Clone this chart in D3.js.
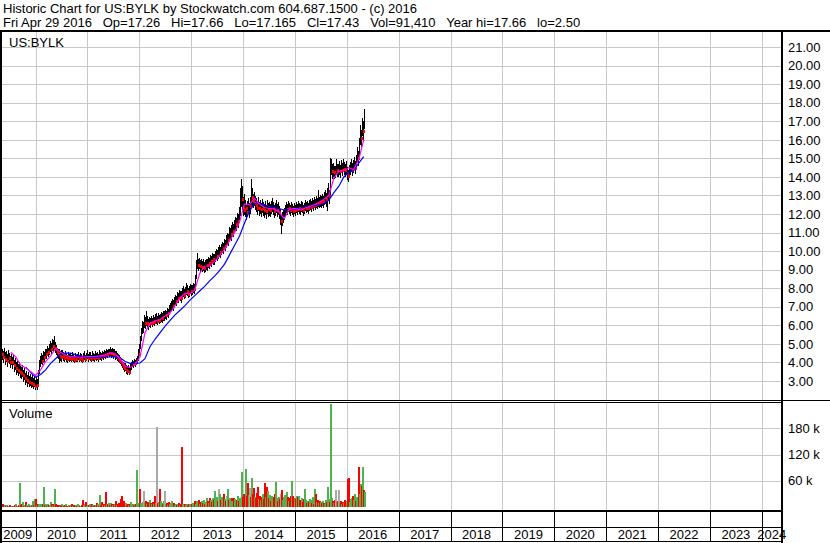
<!DOCTYPE html>
<html lang="en">

<head>
    <meta charset="UTF-8">
    <title>Historic Chart for US:BYLK</title>
    <script src="https://d3js.org/d3.v7.min.js"></script>
    <style>
        body {
            margin: 0;
            background-color: #fff;
        }

        svg {
            display: block;
            font-family: Arial, "Liberation Sans", sans-serif;
        }

        .hdr {
            font-size: 13px;
            white-space: pre;
        }

        .lbl {
            font-size: 13px;
        }
    </style>
</head>

<body>
    <svg id="chart" width="830" height="543"></svg>

    <script>
        const headerLines = [
            'Historic Chart for US:BYLK by Stockwatch.com 604.687.1500 - (c) 2016',
            'Fri Apr 29 2016   Op=17.26   Hi=17.66   Lo=17.165   Cl=17.43   Vol=91,410   Year hi=17.66   lo=2.50'
        ];
        const symbol = 'US:BYLK';

        // weekly bars, the last one is the week ending Fri Apr 29 2016
        const lastWeek = new Date(2016, 3, 29);

        const closes = [4.50,
            4.45, 4.30, 4.55, 4.20, 4.35, 4.10, 4.40, 4.25, 4.05, 4.20,
            4.00, 4.15, 3.85, 3.95, 3.70, 3.80, 3.60, 3.75, 3.50, 3.45,
            3.55, 3.30, 3.40, 3.15, 3.25, 3.05, 3.20, 2.95, 3.10, 2.90,
            3.05, 2.85, 2.95, 2.75, 2.90, 2.80, 3.30, 3.85, 4.05, 4.20,
            4.10, 4.35, 4.30, 4.50, 4.45, 4.65, 4.55, 4.70, 4.85, 4.75,
            5.00, 4.90, 5.05, 4.80, 4.70, 4.55, 4.45, 4.50, 4.35, 4.40,
            4.30, 4.45, 4.35, 4.25, 4.40, 4.30, 4.20, 4.35, 4.25, 4.30,
            4.20, 4.35, 4.25, 4.15, 4.30, 4.20, 4.25, 4.35, 4.20, 4.30,
            4.25, 4.15, 4.30, 4.35, 4.20, 4.30, 4.40, 4.25, 4.35, 4.30,
            4.20, 4.35, 4.30, 4.25, 4.40, 4.30, 4.35, 4.25, 4.45, 4.35,
            4.30, 4.40, 4.35, 4.45, 4.40, 4.50, 4.45, 4.55, 4.50, 4.60,
            4.50, 4.55, 4.45, 4.50, 4.35, 4.40, 4.30, 4.25, 4.15, 4.10,
            4.00, 3.90, 3.80, 3.70, 3.75, 3.60, 3.55, 3.65, 3.50, 3.70,
            3.80, 3.95, 3.90, 4.00, 3.95, 4.05, 4.10, 4.55, 4.45, 5.10,
            5.50, 5.90, 5.90, 6.20, 6.10, 6.30, 6.15, 6.05, 6.20, 6.10,
            6.25, 6.15, 6.30, 6.20, 6.35, 6.35, 6.25, 6.40, 6.30, 6.35,
            6.45, 6.40, 6.50, 6.50, 6.60, 6.55, 6.70, 6.65, 6.80, 6.90,
            7.00, 7.10, 7.05, 7.25, 7.35, 7.30, 7.50, 7.45, 7.60, 7.55,
            7.50, 7.70, 7.80, 7.65, 7.75, 7.90, 7.85, 7.70, 7.80, 7.95,
            7.85, 7.90, 8.00, 7.95, 8.30, 9.00, 9.40, 9.25, 9.35, 9.20,
            9.30, 9.15, 9.25, 9.10, 9.20, 9.30, 9.25, 9.40, 9.35, 9.50,
            9.45, 9.60, 9.55, 9.65, 9.70, 9.80, 9.75, 9.75, 10.00, 9.95,
            10.10, 10.20, 10.15, 10.35, 10.30, 10.30, 10.65, 10.60, 10.85, 10.95,
            10.90, 11.05, 11.20, 11.10, 11.35, 11.50, 11.45, 11.70, 11.60, 11.90,
            12.60, 13.20, 12.80, 12.40, 12.20, 12.70, 12.35, 12.10, 12.50, 12.50,
            12.45, 13.10, 12.90, 12.70, 12.85, 12.60, 12.50, 12.35, 12.55, 12.30,
            12.40, 12.25, 12.45, 12.30, 12.20, 12.35, 12.15, 12.40, 12.25, 12.30,
            12.20, 12.35, 12.45, 12.30, 12.15, 12.25, 12.40, 12.20, 12.30, 12.10,
            12.10, 11.60, 11.75, 11.85, 12.00, 12.20, 12.35, 12.25, 12.40, 12.30,
            12.20, 12.35, 12.25, 12.15, 12.30, 12.20, 12.35, 12.25, 12.40, 12.30,
            12.25, 12.40, 12.35, 12.20, 12.30, 12.45, 12.35, 12.40, 12.30, 12.45,
            12.50, 12.40, 12.55, 12.45, 12.60, 12.50, 12.65, 12.55, 12.70, 12.60,
            12.75, 12.65, 12.80, 12.70, 12.85, 12.90, 12.80, 13.00, 13.20, 12.95,
            14.20, 14.60, 14.30, 14.40, 14.25, 14.25, 14.50, 14.35, 14.35, 14.45,
            14.30, 14.55, 14.40, 14.60, 14.45, 14.35, 14.50, 14.20, 14.05, 14.30,
            14.45, 14.60, 14.40, 14.55, 14.70, 14.50, 14.85, 15.20, 15.00, 15.60,
            16.30, 16.10, 16.80, 16.50, 17.43];

        const highs = [4.80,
            4.75, 4.60, 4.80, 4.55, 4.60, 4.45, 4.65, 4.50, 4.35, 4.45,
            4.30, 4.40, 4.15, 4.25, 4.00, 4.10, 3.90, 4.05, 3.80, 3.75,
            3.85, 3.60, 3.70, 3.45, 3.55, 3.35, 3.50, 3.25, 3.40, 3.20,
            3.35, 3.15, 3.25, 3.05, 3.20, 3.10, 3.60, 4.15, 4.35, 4.50,
            4.40, 4.60, 4.55, 4.75, 4.70, 4.90, 4.80, 5.00, 5.15, 5.05,
            5.25, 5.20, 5.45, 5.10, 4.95, 4.80, 4.70, 4.75, 4.60, 4.65,
            4.50, 4.65, 4.55, 4.45, 4.60, 4.50, 4.40, 4.55, 4.45, 4.50,
            4.40, 4.55, 4.45, 4.35, 4.50, 4.40, 4.45, 4.55, 4.40, 4.50,
            4.45, 4.35, 4.50, 4.60, 4.40, 4.50, 4.65, 4.45, 4.55, 4.55,
            4.40, 4.60, 4.50, 4.45, 4.60, 4.50, 4.55, 4.45, 4.65, 4.55,
            4.50, 4.60, 4.55, 4.65, 4.60, 4.70, 4.65, 4.75, 4.70, 4.85,
            4.75, 4.80, 4.70, 4.70, 4.60, 4.60, 4.50, 4.45, 4.40, 4.30,
            4.20, 4.10, 4.00, 3.95, 3.95, 3.85, 3.80, 3.85, 3.75, 3.90,
            4.00, 4.15, 4.10, 4.20, 4.15, 4.25, 4.35, 4.70, 5.00, 5.45,
            5.85, 6.25, 6.20, 6.55, 6.45, 6.80, 6.50, 6.35, 6.45, 6.40,
            6.50, 6.40, 6.55, 6.45, 6.60, 6.65, 6.50, 6.65, 6.55, 6.60,
            6.70, 6.65, 6.75, 6.80, 6.85, 6.80, 6.95, 6.90, 7.10, 7.20,
            7.30, 7.40, 7.35, 7.55, 7.65, 7.60, 7.80, 7.75, 7.90, 7.85,
            7.85, 8.00, 8.10, 7.95, 8.05, 8.30, 8.15, 8.00, 8.10, 8.25,
            8.15, 8.20, 8.30, 8.25, 8.70, 9.50, 9.90, 9.60, 9.65, 9.50,
            9.60, 9.45, 9.55, 9.40, 9.50, 9.60, 9.55, 9.70, 9.65, 9.80,
            9.75, 9.90, 9.85, 9.85, 10.00, 10.10, 10.05, 10.20, 10.35, 10.25,
            10.40, 10.50, 10.45, 10.65, 10.60, 10.85, 11.00, 10.95, 11.30, 11.25,
            11.25, 11.40, 11.55, 11.45, 11.70, 11.85, 11.80, 12.05, 12.00, 12.40,
            13.40, 13.90, 13.50, 12.90, 13.10, 12.75, 12.50, 12.70, 12.85, 12.60,
            12.90, 13.90, 13.40, 13.10, 13.20, 12.95, 12.85, 12.70, 12.90, 12.65,
            12.75, 12.60, 12.80, 12.65, 12.55, 12.70, 12.50, 12.75, 12.60, 12.65,
            12.55, 12.70, 12.85, 12.65, 12.50, 12.60, 12.75, 12.55, 12.65, 12.45,
            12.25, 11.95, 12.10, 12.20, 12.30, 12.50, 12.65, 12.55, 12.70, 12.60,
            12.50, 12.65, 12.55, 12.45, 12.60, 12.50, 12.65, 12.55, 12.70, 12.60,
            12.55, 12.70, 12.65, 12.50, 12.60, 12.75, 12.65, 12.70, 12.60, 12.75,
            12.80, 12.70, 12.85, 12.75, 12.90, 12.80, 12.95, 12.85, 13.30, 12.90,
            13.05, 12.95, 13.10, 13.00, 13.20, 13.30, 13.15, 13.40, 13.70, 13.30,
            15.00, 14.95, 14.70, 14.75, 14.60, 14.60, 14.95, 14.70, 14.70, 14.85,
            14.65, 14.90, 14.75, 14.95, 14.80, 14.70, 14.85, 14.55, 14.40, 14.65,
            14.80, 14.95, 14.75, 14.90, 15.05, 14.85, 15.20, 15.60, 15.40, 16.10,
            16.80, 16.55, 17.20, 17.00, 17.66];

        const lows = [4.20,
            4.15, 3.95, 4.20, 3.85, 4.00, 3.75, 4.05, 3.90, 3.70, 3.85,
            3.65, 3.85, 3.50, 3.60, 3.35, 3.45, 3.25, 3.40, 3.15, 3.10,
            3.20, 2.95, 3.05, 2.80, 2.90, 2.70, 2.85, 2.65, 2.75, 2.60,
            2.70, 2.55, 2.65, 2.50, 2.60, 2.50, 2.85, 3.40, 3.75, 3.90,
            3.85, 4.05, 4.05, 4.20, 4.20, 4.35, 4.30, 4.40, 4.55, 4.45,
            4.70, 4.60, 4.75, 4.50, 4.40, 4.25, 4.20, 3.95, 4.10, 4.15,
            4.05, 4.20, 4.10, 4.00, 4.15, 4.05, 3.95, 4.10, 4.05, 4.10,
            4.00, 4.15, 4.05, 3.95, 4.10, 4.00, 4.05, 4.15, 4.00, 4.10,
            4.05, 3.95, 4.10, 4.15, 4.00, 4.10, 4.20, 4.05, 4.15, 4.10,
            4.00, 4.15, 4.10, 4.05, 4.20, 4.10, 4.15, 4.05, 4.25, 4.15,
            4.10, 4.20, 4.15, 4.25, 4.20, 4.30, 4.25, 4.35, 4.30, 4.35,
            4.25, 4.30, 4.20, 4.30, 4.15, 4.20, 4.10, 4.05, 3.95, 3.90,
            3.80, 3.70, 3.60, 3.50, 3.55, 3.40, 3.35, 3.45, 3.30, 3.50,
            3.60, 3.75, 3.70, 3.80, 3.75, 3.85, 3.90, 4.10, 4.40, 4.75,
            5.15, 5.55, 5.60, 5.85, 5.80, 5.95, 5.85, 5.75, 5.90, 5.85,
            6.00, 5.90, 6.05, 5.95, 6.10, 6.05, 6.00, 6.15, 6.05, 6.10,
            6.20, 6.15, 6.25, 6.25, 6.35, 6.30, 6.45, 6.40, 6.55, 6.65,
            6.75, 6.85, 6.80, 7.00, 7.10, 7.05, 7.25, 7.20, 7.35, 7.30,
            7.20, 7.45, 7.55, 7.40, 7.50, 7.65, 7.60, 7.45, 7.55, 7.70,
            7.60, 7.65, 7.75, 7.70, 7.95, 8.50, 9.05, 8.95, 9.05, 8.90,
            9.00, 8.85, 8.95, 8.80, 8.90, 9.00, 8.95, 9.10, 9.05, 9.20,
            9.15, 9.30, 9.25, 9.25, 9.40, 9.50, 9.45, 9.60, 9.70, 9.65,
            9.80, 9.90, 9.85, 10.05, 10.00, 10.20, 10.35, 10.30, 10.55, 10.65,
            10.55, 10.70, 10.85, 10.75, 11.00, 11.15, 11.10, 11.35, 11.25, 11.50,
            11.90, 12.40, 12.20, 11.90, 11.95, 11.85, 11.70, 11.90, 12.10, 11.80,
            12.00, 12.50, 12.45, 12.30, 12.45, 12.20, 12.10, 11.95, 12.15, 11.90,
            12.00, 11.85, 12.05, 11.90, 11.80, 11.95, 11.75, 12.00, 11.85, 11.90,
            11.85, 12.00, 12.10, 11.95, 11.80, 11.90, 12.05, 11.85, 11.95, 11.75,
            11.40, 10.90, 11.35, 11.50, 11.70, 11.90, 12.05, 11.95, 12.10, 12.00,
            11.90, 12.05, 11.95, 11.85, 12.00, 11.90, 12.05, 11.95, 12.10, 12.00,
            11.95, 12.10, 12.05, 11.90, 12.00, 12.15, 12.05, 12.10, 12.00, 12.15,
            12.20, 12.10, 12.25, 12.15, 12.30, 12.20, 12.35, 12.25, 12.40, 12.30,
            12.40, 12.30, 12.45, 12.35, 12.50, 12.55, 12.40, 12.15, 12.70, 12.55,
            13.00, 14.10, 13.90, 14.00, 13.90, 13.95, 14.10, 14.00, 14.00, 14.10,
            13.95, 14.20, 14.05, 14.25, 14.10, 14.00, 14.15, 13.85, 13.75, 13.95,
            14.10, 14.25, 14.05, 14.20, 14.35, 14.15, 14.50, 14.80, 14.60, 15.10,
            15.70, 15.60, 16.20, 16.00, 16.60];

        // weekly volume, thousands of shares
        const volumes = [4,
            6, 3, 4, 2, 5, 3, 2, 4, 3, 2,
            3, 2, 4, 8, 3, 2, 5, 54, 4, 6,
            12, 3, 5, 12, 4, 3, 6, 2, 4, 3,
            14, 5, 18, 18, 4, 6, 8, 5, 7, 4,
            6, 45, 5, 8, 3, 6, 4, 5, 12, 6,
            5, 8, 42, 6, 4, 3, 5, 2, 4, 6,
            3, 5, 2, 4, 6, 3, 2, 5, 3, 4,
            6, 2, 4, 3, 5, 3, 6, 4, 2, 3,
            5, 16, 4, 6, 12, 3, 5, 4, 8, 3,
            6, 4, 3, 5, 4, 10, 6, 3, 27, 5,
            12, 4, 6, 5, 35, 8, 6, 9, 4, 10,
            7, 5, 8, 6, 14, 4, 7, 10, 6, 18,
            25, 8, 14, 6, 10, 5, 8, 4, 6, 12,
            5, 7, 4, 8, 6, 85, 10, 7, 42, 10,
            8, 12, 37, 10, 14, 8, 12, 9, 15, 10,
            7, 12, 8, 25, 10, 183, 9, 12, 41, 14,
            10, 8, 14, 37, 6, 9, 5, 12, 7, 10,
            14, 6, 9, 5, 8, 4, 7, 10, 5, 8,
            138, 6, 4, 8, 5, 7, 3, 6, 8, 4,
            6, 9, 5, 14, 7, 14, 10, 16, 8, 12,
            14, 10, 16, 8, 12, 20, 14, 10, 21, 16,
            12, 20, 16, 37, 18, 24, 14, 41, 29, 16,
            22, 12, 29, 18, 14, 25, 41, 16, 20, 12,
            21, 14, 10, 21, 18, 12, 16, 25, 14, 20,
            18, 79, 24, 30, 20, 87, 25, 56, 28, 43,
            22, 66, 30, 43, 24, 20, 32, 45, 18, 26,
            16, 22, 29, 18, 56, 24, 46, 37, 20, 28,
            14, 26, 18, 22, 30, 58, 20, 14, 24, 18,
            29, 38, 16, 22, 28, 18, 35, 24, 14, 20,
            26, 60, 25, 14, 20, 18, 26, 22, 25, 16,
            14, 20, 12, 18, 41, 16, 10, 14, 12, 18,
            15, 10, 22, 8, 41, 29, 12, 16, 10, 14,
            12, 9, 14, 10, 8, 16, 12, 45, 18, 12,
            235, 20, 14, 10, 16, 38, 12, 14, 38, 10,
            14, 8, 12, 10, 16, 9, 14, 64, 66, 12,
            18, 21, 25, 16, 29, 14, 22, 18, 92, 30,
            52, 48, 92, 40, 35];

        // moving averages, one value every 5 weeks
        const maStep = 5;
        const fastStart = 10;
        const fastMA = [
            4.55, 4.30, 3.85, 3.70, 3.50, 3.30, 3.60, 4.05, 4.35, 4.75,
            4.55, 4.40, 4.30, 4.30, 4.28, 4.30, 4.32, 4.32, 4.35, 4.42,
            4.50, 4.45, 4.20, 3.80, 3.72, 3.88, 4.30, 5.60, 6.10, 6.25,
            6.32, 6.50, 6.65, 7.05, 7.45, 7.72, 7.70, 7.90, 8.80, 9.20,
            9.20, 9.45, 9.75, 10.10, 10.55, 11.00, 11.55, 12.55, 12.50, 12.85,
            12.55, 12.35, 12.30, 12.30, 12.10, 11.75, 12.25, 12.30, 12.25, 12.30,
            12.40, 12.50, 12.62, 12.80, 13.00, 13.95, 14.30, 14.35, 14.50, 14.40,
            14.95, 16.00];
        const slowStart = 25;
        const slowMA = [
            3.75, 3.45, 3.20, 3.35, 3.60, 3.95, 4.20, 4.45, 4.50, 4.50,
            4.42, 4.35, 4.30, 4.28, 4.27, 4.27, 4.28, 4.30, 4.30, 4.25,
            4.05, 3.95, 3.95, 3.97, 4.20, 4.85, 5.25, 5.60, 5.95, 6.25,
            6.55, 6.80, 7.05, 7.35, 7.60, 7.85, 8.10, 8.40, 8.65, 8.95,
            9.30, 9.80, 10.30, 10.80, 11.50, 12.15, 12.55, 12.60, 12.50, 12.40,
            12.35, 12.30, 12.22, 12.22, 12.25, 12.30, 12.35, 12.40, 12.45, 12.50,
            12.55, 12.75, 13.15, 13.50, 14.00, 14.25, 14.35, 14.75, 15.10];

        const priceTicks = [3, 4, 5, 6, 7, 8, 9, 10, 11, 12, 13, 14, 15, 16, 17, 18, 19, 20, 21];
        const volumeTicks = [60, 120, 180];
        const years = [2009, 2010, 2011, 2012, 2013, 2014, 2015, 2016, 2017, 2018, 2019, 2020, 2021, 2022, 2023, 2024];

        const svg = d3.select('#chart');
        const plotRight = 781.7;
        const priceTop = 31.5, priceBottom = 400;
        const volTop = 403, volBottom = 509.5;
        const gridColor = '#c8c8c8';

        const weeks = closes.map((c, i) => d3.timeDay.offset(lastWeek, -7 * (closes.length - 1 - i)));

        const x = d3.scaleTime()
            .domain([new Date(2009, 3, 25), new Date(2024, 4, 20)])
            .range([0, plotRight]);
        const yPrice = d3.scaleLinear().domain([3, 21]).range([381, 47.1]);
        const yVol = d3.scaleLinear().domain([0, 180]).range([507, 428.3]);

        svg.append('rect').attr('width', 830).attr('height', 543).attr('fill', '#fff');

        // clip areas for the two panels
        const defs = svg.append('defs');
        defs.append('clipPath').attr('id', 'clipPrice').append('rect')
            .attr('x', 0).attr('y', priceTop).attr('width', plotRight).attr('height', priceBottom - priceTop);
        defs.append('clipPath').attr('id', 'clipVol').append('rect')
            .attr('x', 0).attr('y', volTop).attr('width', plotRight).attr('height', volBottom - volTop);

        // grid
        const grid = svg.append('g').attr('stroke', gridColor).attr('stroke-width', 1).attr('shape-rendering', 'crispEdges');
        grid.selectAll('.hp').data(priceTicks).enter().append('line')
            .attr('x1', 0).attr('x2', plotRight)
            .attr('y1', d => Math.round(yPrice(d)) + 0.5).attr('y2', d => Math.round(yPrice(d)) + 0.5);
        grid.selectAll('.hv').data(volumeTicks).enter().append('line')
            .attr('x1', 0).attr('x2', plotRight)
            .attr('y1', d => Math.round(yVol(d)) + 0.5).attr('y2', d => Math.round(yVol(d)) + 0.5);
        const yearLines = years.slice(1).map(y => Math.round(x(new Date(y, 0, 1))) + 0.5);
        [[priceTop, priceBottom], [volTop, volBottom]].forEach(([a, b]) => {
            grid.append('g').selectAll('line').data(yearLines).enter().append('line')
                .attr('x1', d => d).attr('x2', d => d).attr('y1', a).attr('y2', b);
        });

        // price bars
        const price = svg.append('g').attr('clip-path', 'url(#clipPrice)');
        price.append('g').attr('stroke', '#000').attr('shape-rendering', 'crispEdges')
            .selectAll('line').data(weeks).enter().append('line')
            .attr('x1', d => Math.round(x(d)) + 0.5).attr('x2', d => Math.round(x(d)) + 0.5)
            .attr('y1', (d, i) => yPrice(highs[i])).attr('y2', (d, i) => yPrice(lows[i]));

        // red close marks on the weeks that closed lower
        const downWeeks = weeks.filter((d, i) => i > 0 && closes[i] < closes[i - 1]);
        price.append('g').attr('fill', '#ff0000')
            .selectAll('rect').data(downWeeks).enter().append('rect')
            .attr('x', d => Math.round(x(d)))
            .attr('y', d => Math.round(yPrice(closes[weeks.indexOf(d)])) - 1)
            .attr('width', 2).attr('height', 3);

        // moving averages
        const maLine = start => d3.line()
            .x((v, k) => x(weeks[start + k * maStep]))
            .y(v => yPrice(v));
        price.append('path').datum(slowMA).attr('d', maLine(slowStart))
            .attr('fill', 'none').attr('stroke', '#0000ff').attr('stroke-width', 1.2);
        price.append('path').datum(fastMA).attr('d', maLine(fastStart))
            .attr('fill', 'none').attr('stroke', '#ff00ff').attr('stroke-width', 1.2);

        // volume bars coloured by the week's close against the previous one
        const volColor = i => {
            if (i === 0 || closes[i] === closes[i - 1]) return '#a8a8a8';
            return closes[i] > closes[i - 1] ? '#4db34d' : '#ff0000';
        };
        svg.append('g').attr('clip-path', 'url(#clipVol)').attr('shape-rendering', 'crispEdges')
            .selectAll('rect').data(weeks).enter().append('rect')
            .attr('x', d => Math.round(x(d)))
            .attr('y', (d, i) => yVol(volumes[i]))
            .attr('width', 2)
            .attr('height', (d, i) => yVol(0) - yVol(volumes[i]))
            .attr('fill', (d, i) => volColor(i));

        // frame
        const frame = svg.append('g').attr('fill', '#000').attr('shape-rendering', 'crispEdges');
        frame.append('rect').attr('x', 0).attr('y', 29.5).attr('width', 830).attr('height', 2);
        frame.append('rect').attr('x', 0).attr('y', 29.5).attr('width', 2).attr('height', 513);
        frame.append('rect').attr('x', 781).attr('y', 29.5).attr('width', 2).attr('height', 513.5);
        frame.append('rect').attr('x', 0).attr('y', 400).attr('width', 830).attr('height', 1.2);
        frame.append('rect').attr('x', 0).attr('y', 402.2).attr('width', plotRight).attr('height', 1.2);
        frame.append('rect').attr('x', 0).attr('y', 509.5).attr('width', plotRight).attr('height', 2);
        frame.append('rect').attr('x', 0).attr('y', 526.5).attr('width', plotRight).attr('height', 1.2);
        frame.append('rect').attr('x', 0).attr('y', 540.5).attr('width', plotRight).attr('height', 1.5);
        frame.selectAll('.tick').data(yearLines).enter().append('rect')
            .attr('x', d => d - 0.5).attr('y', 510).attr('width', 1).attr('height', 31);

        // header
        headerLines.forEach((t, i) => {
            svg.append('text').attr('class', 'hdr')
                .attr('x', 3).attr('y', 13 + i * 14)
                .text(t);
        });

        svg.append('text').attr('class', 'lbl').attr('x', 9).attr('y', 46.5).text(symbol);
        svg.append('text').attr('class', 'lbl').attr('x', 9).attr('y', 418).text('Volume');

        // right axis labels
        svg.append('g').selectAll('text').data(priceTicks).enter().append('text')
            .attr('class', 'lbl')
            .attr('x', 788).attr('y', d => yPrice(d)).attr('dy', '0.36em')
            .text(d => d3.format('.2f')(d));
        svg.append('g').selectAll('text').data(volumeTicks).enter().append('text')
            .attr('class', 'lbl')
            .attr('x', 788).attr('y', d => yVol(d)).attr('dy', '0.36em')
            .text(d => d + ' k');

        // year labels centred in the visible part of each year
        svg.append('g').selectAll('text').data(years).enter().append('text')
            .attr('class', 'lbl')
            .attr('text-anchor', 'middle')
            .attr('x', y => {
                const a = Math.max(0, x(new Date(y, 0, 1)));
                const b = Math.min(plotRight, x(new Date(y + 1, 0, 1)));
                return (a + b) / 2;
            })
            .attr('y', 539)
            .text(y => y);
    </script>
</body>

</html>
